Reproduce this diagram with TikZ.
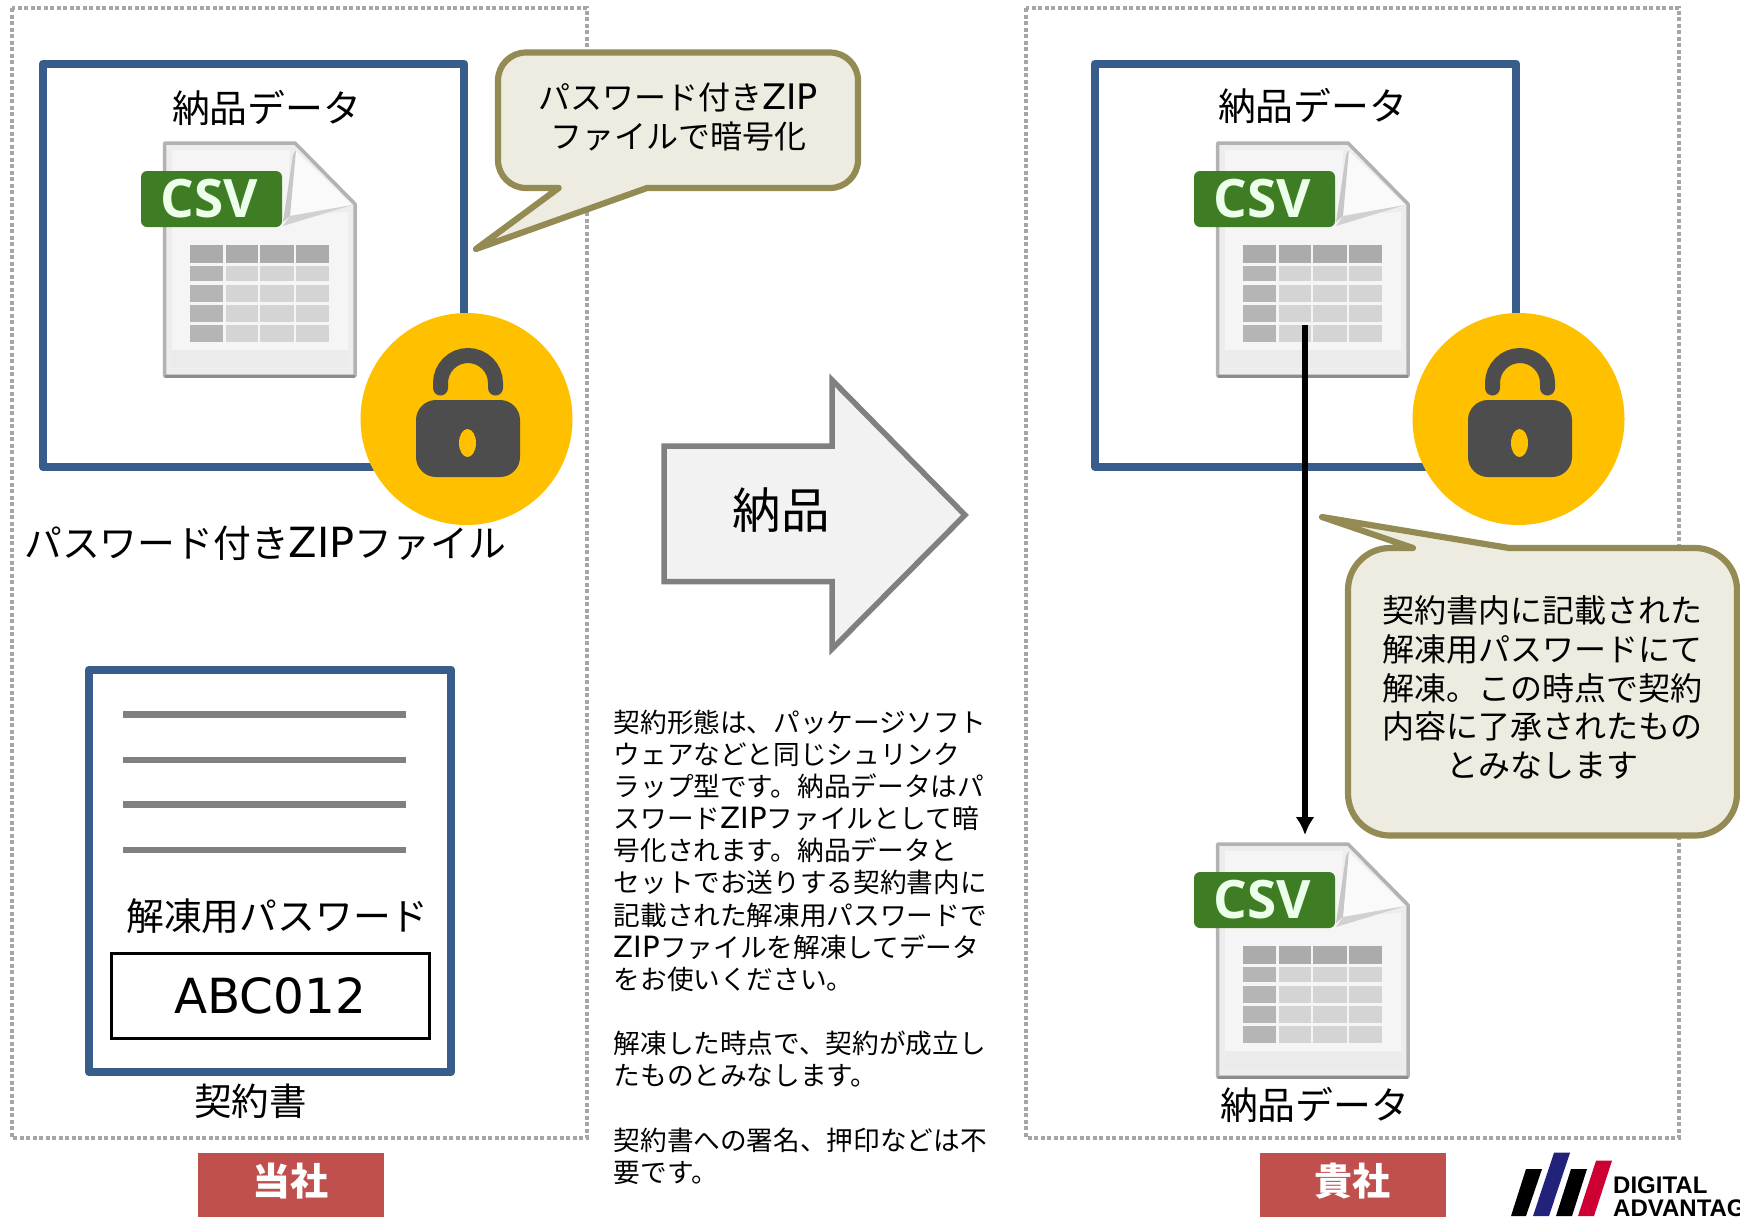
\documentclass[tikz,border=0pt]{standalone}
\usepackage{fontspec}
\setmainfont{Noto Sans CJK JP}
\newfontfamily\ltn[Scale=1.1]{DejaVu Sans}
\newfontfamily\abcf{DejaVu Sans}
\newfontfamily\csvf{Open Sans}
\newfontfamily\logof{Liberation Sans}
\definecolor{dotgrey}{HTML}{A6A6A6}
\definecolor{boxblue}{HTML}{385D8A}
\definecolor{lockyellow}{HTML}{FFC000}
\definecolor{lockgrey}{HTML}{4D4D4D}
\definecolor{callfill}{HTML}{EEECE1}
\definecolor{callline}{HTML}{948A54}
\definecolor{tagred}{HTML}{C0504D}
\definecolor{csvgreen}{HTML}{3F7D25}
\definecolor{logoblue}{HTML}{22227A}
\definecolor{logored}{HTML}{CC0033}
\tikzset{
  dotbox/.style={draw=dotgrey,line width=4pt,dash pattern=on 4pt off 2.5pt},
  bluebox/.style={draw=boxblue,line width=8pt,fill=white,line join=round,inner sep=0pt},
  callout/.style={draw=callline,fill=callfill,line width=6.2pt,line join=round},
  label/.style={inner sep=0pt,text=black},
  big/.style={label,font=\fontsize{37.8}{44}\selectfont},
  small/.style={label,font=\fontsize{32}{38.8}\selectfont,align=center},
  tagbox/.style={fill=tagred,inner sep=0pt,minimum width=186.5pt,minimum height=64pt},
  tagtext/.style={inner sep=0pt,text=white,font=\fontsize{38}{44}\selectfont\bfseries},
  rule/.style={draw=black!50,line width=6.5pt},
  flow/.style={line width=6.4pt,-{Latex[length=18pt,width=19pt]}},
}
\usetikzlibrary{arrows.meta}
\newcommand{\drawcsv}{%
  \filldraw[draw=black!30,fill=black!7,line width=3.5pt,line join=round]
    (164.5,143)--(295,143)--(355,204)--(355,376)--(164.5,376)--cycle;
  \draw[black!45,line width=3pt] (164.5,376)--(355,376);
  \fill[black!4] (172,150)--(290,150)--(288,215)--(348,212)--(348,368)--(172,368)--cycle;
  \fill[black!8] (172,350)--(348,350)--(348,368)--(172,368)--cycle;
  \fill[black!2] (295,150)--(352,205)--(290,216)--cycle;
  \fill[black!22] (293,155)--(296,150)--(290,216)--(283,222)--cycle;
  \fill[black!18] (290,216)--(352,205)--(283,226)--cycle;
  \foreach \xa/\xb [count=\c] in {190/223,225.5/257.5,260.4/293.8,296.4/329}{
    \foreach \ya/\yb [count=\r] in {244.6/262.5,265.5/281,285/301.5,305/321.5,325/342}{
      \ifnum\r=1 \def\shade{33}\else\ifnum\c=1 \def\shade{29}\else\def\shade{17}\fi\fi
      \fill[black!\shade] (\xa,\ya) rectangle (\xb,\yb);
    }
  }
  \fill[csvgreen,rounded corners=6pt] (141,171) rectangle (282,227);
  \node[inner sep=0pt,text=white!92!green,font=\fontsize{53}{53}\csvf\bfseries] at (209.5,199) {CSV};
}
\newcommand{\drawlock}{%
  \fill[lockyellow] (466.5,419) circle[radius=106pt];
  \draw[lockgrey,line width=15pt,line cap=round] (440.5,388)--(440.5,383) arc[start angle=180,end angle=0,radius=27.5pt]--(495.5,388);
  \fill[lockgrey,rounded corners=20pt] (416,400) rectangle (520,477);
  \fill[lockyellow] (467.5,443) ellipse[x radius=8.5pt,y radius=14pt];
}
\begin{document}
\begin{tikzpicture}[x=1pt,y=-1pt]
\useasboundingbox (0,0) rectangle (1740,1216);
\clip (0,0) rectangle (1740,1216);
\fill[white] (0,0) rectangle (1740,1216);
% dotted areas
\draw[dotbox] (12,8) rectangle (587,1137.5);
\draw[dotbox] (1026,8) rectangle (1679,1137.5);
% delivered boxes
\node[bluebox,minimum width=421pt,minimum height=403.5pt] (pkgA) at (253.5,265.25) {};
\node[bluebox,minimum width=421pt,minimum height=403.5pt] (pkgB) at (1305.5,265.25) {};
\node[big] (titleA) at (266.5,108) {納品データ};
\node[big] (titleB) at (1312.5,106) {納品データ};
\drawcsv
\begin{scope}[shift={(1053,0)}]\drawcsv\end{scope}
\begin{scope}[shift={(1053,701)}]\drawcsv\end{scope}
\drawlock
\begin{scope}[shift={(1052,0)}]\drawlock\end{scope}
\node[big,anchor=west] (zipfile) at (24,543) {パスワード付き{\ltn ZIP}ファイル};
% callout 1
\draw[callout] (558.7,188)--(476,249)--(647,188)[rounded corners=28pt]--(858,188)--(858,52.5)--(498,52.5)--(498,188)[sharp corners]--cycle;
\node[small] (call1) at (678,117) {パスワード付き{\ltn ZIP}\\ファイルで暗号化};
% contract
\node[bluebox,minimum width=362pt,minimum height=402.5pt] (contract) at (270,870.75) {};
\coordinate (r1a) at (123,714.6); \coordinate (r1b) at (406,714.6);
\coordinate (r2a) at (123,760); \coordinate (r2b) at (406,760);
\coordinate (r3a) at (123,804.5); \coordinate (r3b) at (406,804.5);
\coordinate (r4a) at (123,850); \coordinate (r4b) at (406,850);
\draw[rule] (r1a)--(r1b); \draw[rule] (r2a)--(r2b); \draw[rule] (r3a)--(r3b); \draw[rule] (r4a)--(r4b);
\node[big] (pwlabel) at (277.5,916) {解凍用パスワード};
\node[draw=black,line width=3pt,minimum width=318pt,minimum height=84.5pt,inner sep=0pt,font=\fontsize{48.4}{50}\abcf] (pw) at (270,996) {ABC012};
\node[label,font=\fontsize{37.5}{44}\selectfont] (contractlabel) at (250.5,1101.5) {契約書};
% big arrow
\draw[draw=black!50,fill=black!5,line width=5.5pt,line join=miter] (664,446)--(832,446)--(832,380)--(965,515)--(832,649)--(832,581.5)--(664,581.5)--cycle;
\node[label,font=\fontsize{48.5}{54}\selectfont] (deliver) at (781,510) {納品};
% paragraph
\node[label,anchor=west,align=left,font=\fontsize{26.65}{32.15}\selectfont] (para) at (613.5,947) {契約形態は、パッケージソフト\\ウェアなどと同じシュリンク\\ラップ型です。納品データはパ\\スワード{\ltn ZIP}ファイルとして暗\\号化されます。納品データと\\セットでお送りする契約書内に\\記載された解凍用パスワードで\\{\ltn ZIP}ファイルを解凍してデータ\\をお使いください。\\ ~\\解凍した時点で、契約が成立し\\たものとみなします。\\ ~\\契約書への署名、押印などは不\\要です。};
% arrow
\coordinate (flowstart) at (1305,325);
\coordinate (flowend) at (1305,835);
\draw[flow] (flowstart)--(flowend);
% callout 2
\draw[callout] (1413,548)--(1322,517)--(1509,548)[rounded corners=42pt]--(1737,548)--(1737,835.5)--(1348,835.5)--(1348,548)[sharp corners]--cycle;
\node[small] (call2) at (1542,687.5) {契約書内に記載された\\解凍用パスワードにて\\解凍。この時点で契約\\内容に了承されたもの\\とみなします};
\node[big] (titleC) at (1314.5,1105) {納品データ};
% tags
\node[tagbox] (us) at (290.75,1185) {};
\node[tagtext] (usl) at (290,1181) {当社};
\node[tagbox] (you) at (1352.75,1185) {};
\node[tagtext] (youl) at (1352,1181) {貴社};
% logo
\fill[black] (1526,1169)--(1542,1169)--(1526,1216)--(1511,1216)--cycle;
\fill[logoblue] (1554,1152.7)--(1570,1152.7)--(1549,1216)--(1533,1216)--cycle;
\fill[black] (1571,1169)--(1587,1169)--(1572,1216)--(1556,1216)--cycle;
\fill[logored] (1596,1160.7)--(1612,1160.7)--(1594,1216)--(1578,1216)--cycle;
\node[anchor=base west,inner sep=0pt,font=\fontsize{24}{24}\logof\bfseries] (logo1) at (1613,1193.3) {DIGITAL};
\node[anchor=base west,inner sep=0pt,font=\fontsize{24}{24}\logof\bfseries] (logo2) at (1613,1216.5) {ADVANTAGE};
\end{tikzpicture}
\end{document}
